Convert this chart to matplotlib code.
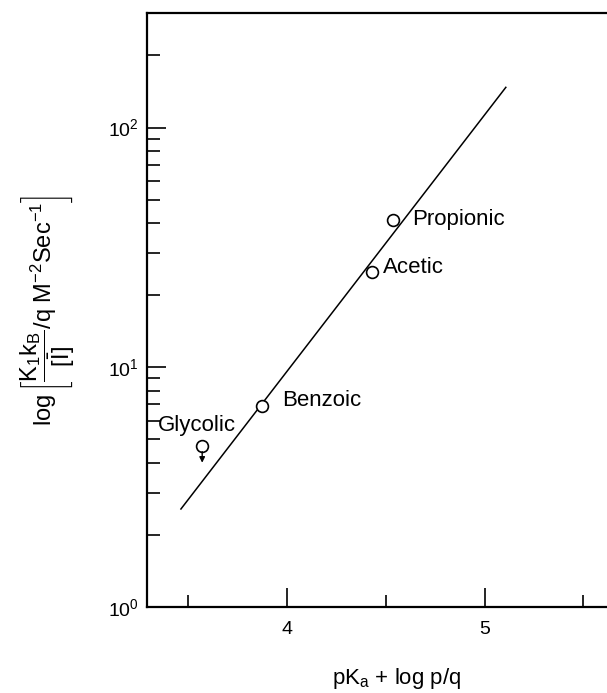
import matplotlib
matplotlib.use('Agg')
import matplotlib.pyplot as plt
from matplotlib.ticker import LogLocator, FixedLocator, NullFormatter

plt.rcParams['font.family'] = ['Liberation Sans', 'DejaVu Sans']
plt.rcParams['mathtext.fontset'] = 'custom'
plt.rcParams['mathtext.rm'] = 'Liberation Sans'
plt.rcParams['mathtext.it'] = 'Liberation Sans:italic'
plt.rcParams['mathtext.bf'] = 'Liberation Sans:bold'
plt.rcParams['mathtext.default'] = 'regular'

# acids
acids = ['Glycolic', 'Benzoic', 'Acetic', 'Propionic']
pka_logpq = [3.57, 3.875, 4.43, 4.535]
rate = [4.7, 6.9, 25.0, 41.0]

# fitted line end points
fit_x = [3.46, 5.11]
fit_y = [2.55, 148.0]

# label offsets in points (dx, dy)
label_offsets = {
    'Glycolic': (-32, 15),
    'Benzoic': (14, 4),
    'Acetic': (8, 3),
    'Propionic': (14, 1),
}

fig = plt.figure(figsize=(6.07, 6.93), dpi=100)
ax = fig.add_axes([0.242, 0.124, 0.758, 0.857])

ax.plot(fit_x, fit_y, color='black', lw=1.1, solid_capstyle='butt')
ax.plot(pka_logpq, rate, 'o', ms=8.5, mfc='white', mec='black', mew=1.2, zorder=3)

for name, x, y in zip(acids, pka_logpq, rate):
    dx, dy = label_offsets[name]
    ax.annotate(name, (x, y), xytext=(dx, dy), textcoords='offset points',
                fontsize=16, va='center', ha='left')

# glycolic value is an upper limit
ax.annotate('', xy=(pka_logpq[0], 4.0), xytext=(pka_logpq[0], 4.45),
            arrowprops=dict(arrowstyle='-|>', color='black', lw=1.0,
                            mutation_scale=8, shrinkA=0, shrinkB=0))

ax.set_yscale('log')
ax.set_xlim(3.29, 5.62)
ax.set_ylim(1, 300)

ax.xaxis.set_major_locator(FixedLocator([4, 5]))
ax.xaxis.set_minor_locator(FixedLocator([3.5, 4.5, 5.5]))
ax.yaxis.set_major_locator(LogLocator(base=10, numticks=5))
ax.yaxis.set_minor_locator(LogLocator(base=10, subs=range(2, 10), numticks=20))
ax.yaxis.set_minor_formatter(NullFormatter())

ax.tick_params(which='major', direction='in', length=14, width=1.2, labelsize=14)
ax.tick_params(axis='x', which='major', pad=10)
ax.tick_params(axis='y', which='major', pad=6)
ax.tick_params(which='minor', direction='in', length=9, width=1.2)

ax.spines['right'].set_visible(False)
for s in ['left', 'top', 'bottom']:
    ax.spines[s].set_linewidth(1.6)

ax.set_xlabel(r'pK$_a$ + log p/q', fontsize=16)
ax.set_ylabel(r'$\log\left[\dfrac{K_1k_B}{[\bar{I}]}/q\ M^{-2}Sec^{-1}\right]$',
              fontsize=17)
ax.xaxis.set_label_coords(0.543, -0.1)
ax.yaxis.set_label_coords(-0.152, 0.5)

fig.savefig('out.png', dpi=100)
